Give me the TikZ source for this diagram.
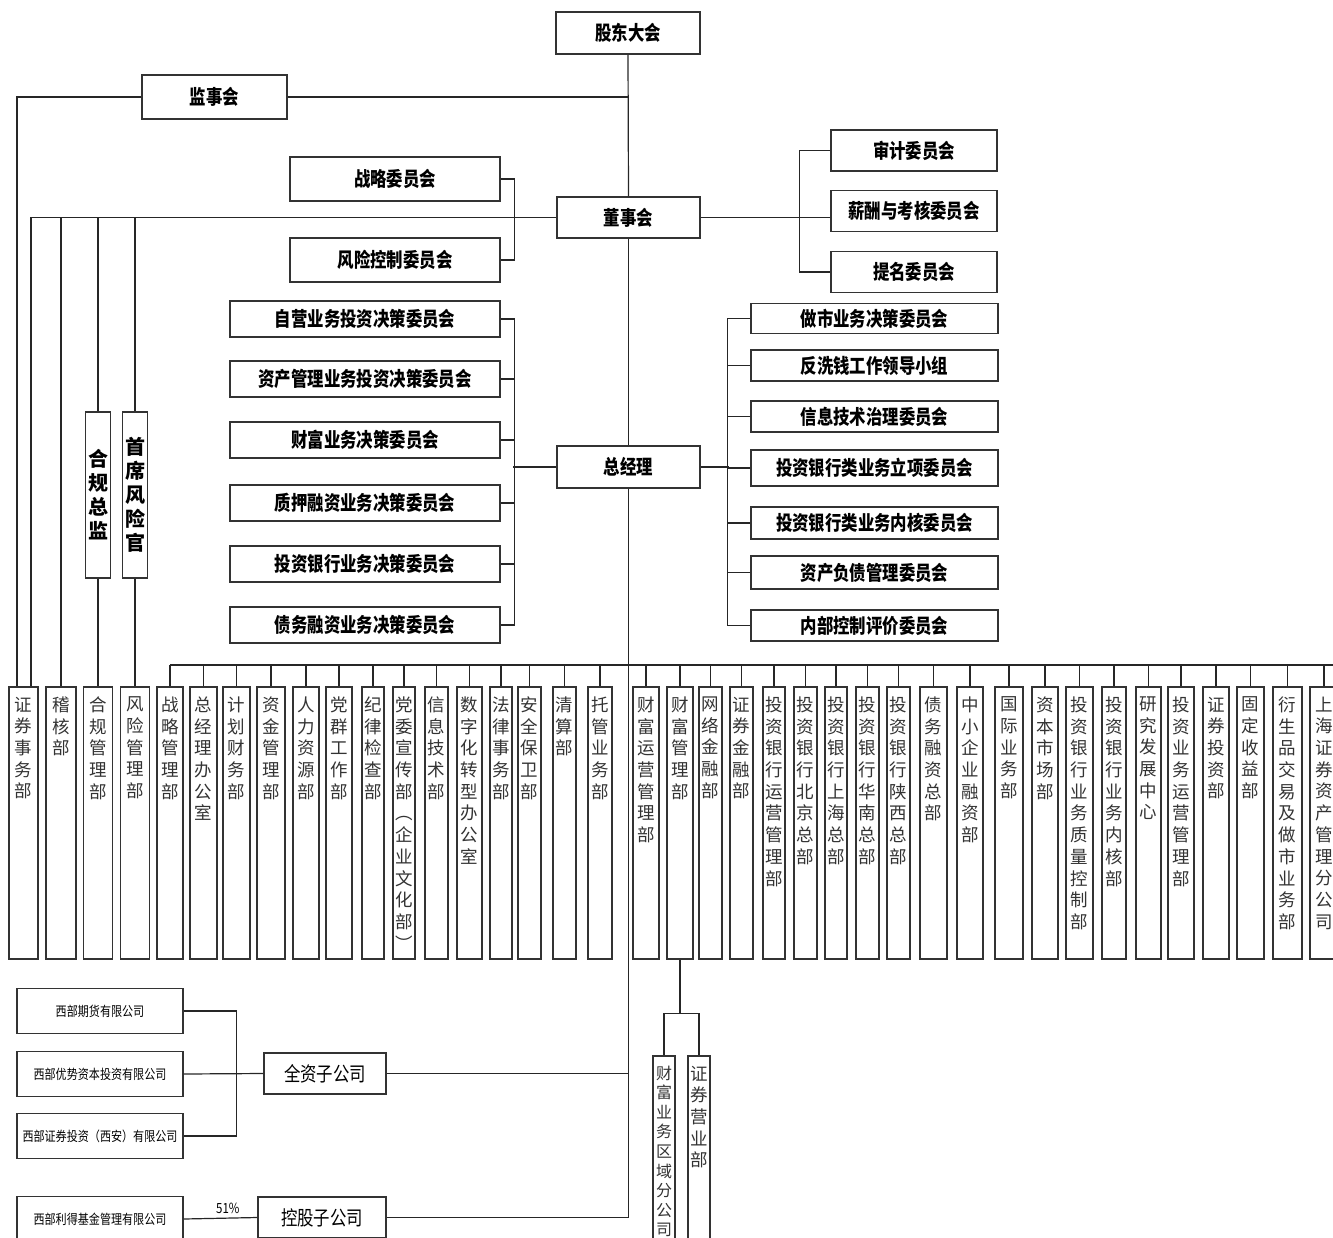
\documentclass[tikz,border=0pt]{standalone}
\usepackage{fontspec}
\setmainfont{Noto Sans CJK SC}
\newfontfamily\cmtfont{Noto Sans CJK SC}[FakeStretch=0.82]
\usetikzlibrary{positioning,calc}
\tikzstyle{conn} = [line width=1.2pt, draw=black!85]
\tikzstyle{box} = [rectangle, draw=black!80, line width=1.5pt, inner sep=0pt, fill=white]

\ExplSyntaxOn
\seq_new:N \l_vchars_seq
\tl_new:N \l_vchars_tl
\NewDocumentCommand \vchars { m }
  {
    \tl_set:Nx \l_vchars_tl {#1}
    \seq_clear:N \l_vchars_seq
    \tl_map_inline:Nn \l_vchars_tl { \seq_put_right:Nn \l_vchars_seq {##1} }
    \seq_use:Nn \l_vchars_seq { \\ }
  }
\ExplSyntaxOff
\newcommand\deptxt[2][272pt]{\parbox[c][#1][t]{20pt}{\vspace*{10pt}\centering\vchars{#2}}}

\begin{document}
\begin{tikzpicture}[x=1pt, y=-1pt,
    cmt/.style={box, font=\cmtfont\bfseries\fontsize{20}{22}\selectfont},
    dept/.style={box, anchor=north, text=black!80, font=\fontsize{17.5}{21.7}\selectfont},
    holding/.style={box, font=\cmtfont\fontsize{20}{22}\selectfont},
    sub/.style={box, minimum width=166, minimum height=45, font=\cmtfont\fontsize{13.5}{15}\selectfont}]
  \useasboundingbox (0,0) rectangle (1333,1237);
  \clip (0,0) rectangle (1333,1237);

  % BOARDS
  \node[cmt, minimum width=144, minimum height=42] (gd) at (628,33) {股东大会};
  \node[cmt, minimum width=145, minimum height=44] (jsh) at (214.5,97) {监事会};
  \node[cmt, minimum width=143, minimum height=41] (ds) at (628.5,217.5) {董事会};
  \node[cmt, minimum width=210, minimum height=44] (zl) at (395,179) {战略委员会};
  \node[cmt, minimum width=210, minimum height=44] (fk) at (395,260) {风险控制委员会};
  \node[cmt, minimum width=166, minimum height=41] (sj) at (914,150.5) {审计委员会};
  \node[cmt, minimum width=166, minimum height=41] (xc) at (914,211) {薪酬与考核委员会};
  \node[cmt, minimum width=166, minimum height=41] (tm) at (914,272) {提名委员会};
  \node[cmt, minimum width=143, minimum height=42] (zjl) at (628.5,467) {总经理};

  % COMMITTEES OF THE GENERAL MANAGER
  \foreach \y/\nm [count=\i] in {319/自营业务投资决策委员会, 379/资产管理业务投资决策委员会,
      440/财富业务决策委员会, 503/质押融资业务决策委员会, 564/投资银行业务决策委员会,
      625/债务融资业务决策委员会}
    \node[cmt, minimum width=270, minimum height=36] (c\i) at (365,\y) {\nm};
  \foreach \y/\h/\nm [count=\i] in {318.5/30/做市业务决策委员会, 365.5/31/反洗钱工作领导小组,
      416.5/31/信息技术治理委员会, 468/36/投资银行类业务立项委员会, 523/32/投资银行类业务内核委员会,
      572.5/33/资产负债管理委员会, 625.5/31/内部控制评价委员会}
    \node[cmt, minimum width=247, minimum height=\h] (r\i) at (874.5,\y) {\nm};

  % OFFICERS
  \node[box, minimum width=25, minimum height=166, align=center,
        font=\bfseries\fontsize{20}{24}\selectfont] (hg) at (98,495) {\vchars{合规总监}};
  \node[box, minimum width=25, minimum height=166, align=center,
        font=\bfseries\fontsize{20}{24}\selectfont] (sx) at (135,495) {\vchars{首席风险官}};

  % DEPARTMENTS
  \node[dept, minimum width=29] (z1) at (23.5,686) {\deptxt{证券事务部}};
  \node[dept, minimum width=30] (z2) at (61,686) {\deptxt{稽核部}};
  \node[dept, minimum width=29] (z3) at (98,686) {\deptxt{合规管理部}};
  \node[dept, minimum width=29] (z4) at (135,686) {\deptxt{风险管理部}};

  \coordinate (barL) at (170,665);
  \coordinate (barR) at (1333,665);
  \draw[conn] (barL) -- (barR);
  \foreach \cx/\w/\nm [count=\i] in {170/26/战略管理部, 203.5/27/总经理办公室, 236.5/27/计划财务部,
      271/28/资金管理部, 306/26/人力资源部, 339/26/党群工作部, 373/22/纪律检查部,
      404/22/党委宣传部︵企业文化部︶, 436.5/23/信息技术部, 469.5/25/数字化转型办公室,
      501/22/法律事务部, 529.5/23/安全保卫部, 564.5/23/清算部, 600/24/托管业务部,
      646/26/财富运营管理部, 680/26/财富管理部, 710.5/23/网络金融部, 741.5/23/证券金融部,
      774/22/投资银行运营管理部, 805.5/23/投资银行北京总部, 836/22/投资银行上海总部,
      867.5/23/投资银行华南总部, 898.5/23/投资银行陕西总部, 933.5/27/债务融资总部,
      970/26/中小企业融资部, 1009/28/国际业务部, 1045/26/资本市场部,
      1079.5/27/投资银行业务质量控制部, 1114/24/投资银行业务内核部, 1148.5/25/研究发展中心,
      1181/26/投资业务运营管理部, 1216/26/证券投资部, 1250.5/27/固定收益部,
      1287.5/29/衍生品交易及做市业务部, 1324/28/上海证券资产管理分公司} {
    \node[dept, minimum width=\w] (b\i) at (\cx,686) {\deptxt{\nm}};
    \draw[conn] (b\i.north) -- (b\i.north |- barL);
  }

  \node[dept, minimum width=22, font=\fontsize{16}{19.6}\selectfont] (fq) at (664,1055) {\deptxt[200pt]{财富业务区域分公司}};
  \node[dept, minimum width=22] (yy) at (699,1055) {\deptxt[200pt]{证券营业部}};

  % SUBSIDIARIES
  \node[sub] (qh) at (100,1011) {西部期货有限公司};
  \node[sub] (ys) at (100,1074) {西部优势资本投资有限公司};
  \node[sub] (zt) at (100,1136) {西部证券投资（西安）有限公司};
  \node[sub] (ld) at (100,1219) {西部利得基金管理有限公司};
  \node[holding, minimum width=122, minimum height=41] (qz) at (325,1073.5) {全资子公司};
  \node[holding, minimum width=128, minimum height=41] (kg) at (322,1217.5) {控股子公司};

  % LINES
  \draw[conn] (gd.south) -- (ds.north);
  \draw[conn] (ds.south) -- (zjl.north);
  \draw[conn] (zjl.south) -- (zjl.south |- kg.east) -- (kg.east);
  \draw[conn] (qz.east) -- (qz.east -| zjl.south);

  \coordinate (jL) at (17,97);
  \draw[conn] (jsh.west) -- (jL) -- (jL |- z1.north);
  \draw[conn] (jsh.east) -- (jsh.east -| gd.south);

  \coordinate (bL) at (31,217.5);
  \draw[conn] (ds.west) -- (bL) -- (bL |- z1.north);
  \draw[conn] (bL -| z2.north) -- (z2.north);
  \draw[conn] (bL -| hg.north) -- (hg.north);
  \draw[conn] (bL -| sx.north) -- (sx.north);
  \draw[conn] (hg.south) -- (z3.north);
  \draw[conn] (sx.south) -- (z4.north);

  \draw[conn] (zl.east) -- ++(14,0) |- (fk.east);
  \draw[conn] (ds.east) -- (ds.east -| xc.west);
  \draw[conn] (sj.west) -- ++(-31,0) |- (tm.west);

  \draw[conn] (zjl.west) -- ++(-43,0);
  \draw[conn] (c1.east) -- ++(14,0) |- (c6.east);
  \foreach \i in {2,...,5}
    \draw[conn] (c\i.east) -- ++(14,0);
  \draw[conn] (zjl.east) -- ++(28,0);
  \draw[conn] (r1.west) -- ++(-23,0) |- (r7.west);
  \foreach \i in {2,...,6}
    \draw[conn] (r\i.west) -- ++(-23,0);

  \draw[conn] (b16.south) -- ++(0,54) coordinate (cfb);
  \draw[conn] (fq.north) |- (cfb) -| (yy.north);

  \draw[conn] (qh.east) -- ++(53,0) |- (zt.east);
  \draw[conn] (ys.east) -- (qz.west);
  \draw[conn] (ld.east) -- (kg.west) node[pos=0.6, above=1pt, font=\cmtfont\fontsize{14}{16}\selectfont] (pct) {51\%};
\end{tikzpicture}
\end{document}
